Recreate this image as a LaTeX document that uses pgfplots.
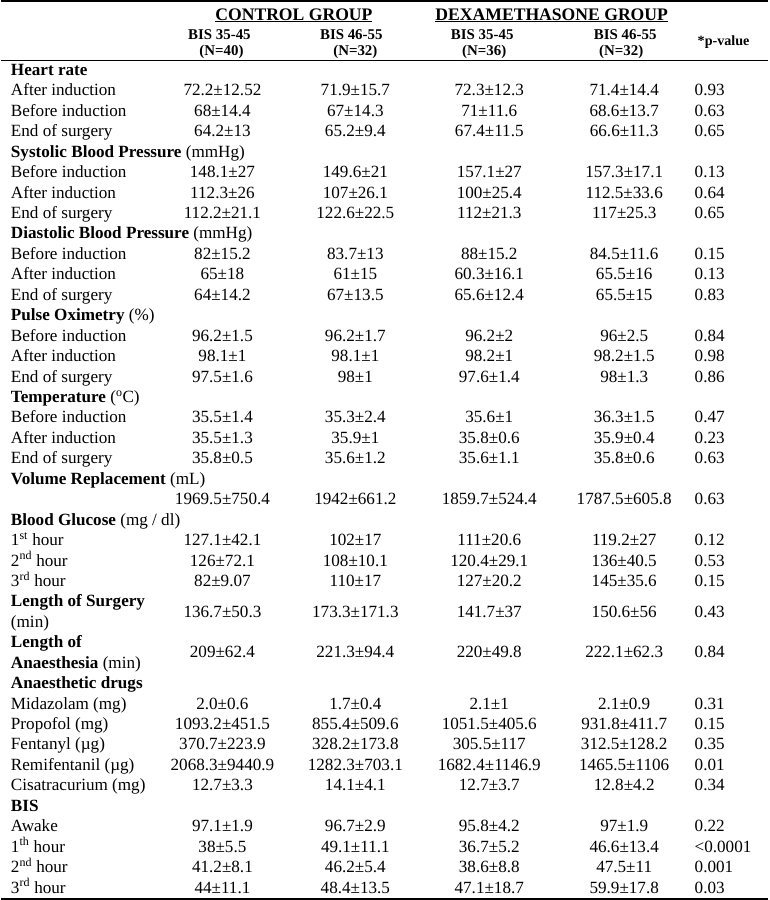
\documentclass[border=0pt]{standalone}
\usepackage{fontspec}
\setmainfont{Liberation Serif}
\usepackage{pgfplots}
\usepackage{pgfplotstable}
\pgfplotsset{compat=1.18}
\pgfplotstableread[col sep=comma, row sep=\\]{
y,lab,a,b,c,d,p\\
78.0,\textbf{Heart rate},,,,,\\
98.3,After induction,72.2±12.52,71.9±15.7,72.3±12.3,71.4±14.4,0.93\\
118.6,Before induction,68±14.4,67±14.3,71±11.6,68.6±13.7,0.63\\
138.9,End of surgery,64.2±13,65.2±9.4,67.4±11.5,66.6±11.3,0.65\\
159.2,\textbf{Systolic Blood Pressure} (mmHg),,,,,\\
179.5,Before induction,148.1±27,149.6±21,157.1±27,157.3±17.1,0.13\\
199.8,After induction,112.3±26,107±26.1,100±25.4,112.5±33.6,0.64\\
220.1,End of surgery,112.2±21.1,122.6±22.5,112±21.3,117±25.3,0.65\\
240.4,\textbf{Diastolic Blood Pressure} (mmHg),,,,,\\
260.7,Before induction,82±15.2,83.7±13,88±15.2,84.5±11.6,0.15\\
281.0,After induction,65±18,61±15,60.3±16.1,65.5±16,0.13\\
301.3,End of surgery,64±14.2,67±13.5,65.6±12.4,65.5±15,0.83\\
321.6,\textbf{Pulse Oximetry} (\%),,,,,\\
341.9,Before induction,96.2±1.5,96.2±1.7,96.2±2,96±2.5,0.84\\
362.2,After induction,98.1±1,98.1±1,98.2±1,98.2±1.5,0.98\\
382.5,End of surgery,97.5±1.6,98±1,97.6±1.4,98±1.3,0.86\\
402.8,\textbf{Temperature} (\textsuperscript{o}C),,,,,\\
423.1,Before induction,35.5±1.4,35.3±2.4,35.6±1,36.3±1.5,0.47\\
443.4,After induction,35.5±1.3,35.9±1,35.8±0.6,35.9±0.4,0.23\\
463.7,End of surgery,35.8±0.5,35.6±1.2,35.6±1.1,35.8±0.6,0.63\\
484.0,\textbf{Volume Replacement} (mL),,,,,\\
504.3,,1969.5±750.4,1942±661.2,1859.7±524.4,1787.5±605.8,0.63\\
524.6,\textbf{Blood Glucose} (mg / dl),,,,,\\
544.9,1\textsuperscript{st} hour,127.1±42.1,102±17,111±20.6,119.2±27,0.12\\
565.2,2\textsuperscript{nd} hour,126±72.1,108±10.1,120.4±29.1,136±40.5,0.53\\
585.5,3\textsuperscript{rd} hour,82±9.07,110±17,127±20.2,145±35.6,0.15\\
605.8,\textbf{Length of Surgery},,,,,\\
626.1,(min),,,,,\\
616.0,,136.7±50.3,173.3±171.3,141.7±37,150.6±56,0.43\\
646.4,\textbf{Length of},,,,,\\
666.7,\textbf{Anaesthesia} (min),,,,,\\
656.5,,209±62.4,221.3±94.4,220±49.8,222.1±62.3,0.84\\
687.0,\textbf{Anaesthetic drugs},,,,,\\
707.3,Midazolam (mg),2.0±0.6,1.7±0.4,2.1±1,2.1±0.9,0.31\\
727.6,Propofol (mg),1093.2±451.5,855.4±509.6,1051.5±405.6,931.8±411.7,0.15\\
747.9,Fentanyl (µg),370.7±223.9,328.2±173.8,305.5±117,312.5±128.2,0.35\\
768.2,Remifentanil (µg),2068.3±9440.9,1282.3±703.1,1682.4±1146.9,1465.5±1106,0.01\\
788.5,Cisatracurium (mg),12.7±3.3,14.1±4.1,12.7±3.7,12.8±4.2,0.34\\
808.8,\textbf{BIS},,,,,\\
829.1,Awake,97.1±1.9,96.7±2.9,95.8±4.2,97±1.9,0.22\\
849.4,1\textsuperscript{th} hour,38±5.5,49.1±11.1,36.7±5.2,46.6±13.4,<0.0001\\
869.7,2\textsuperscript{nd} hour,41.2±8.1,46.2±5.4,38.6±8.8,47.5±11,0.001\\
890.0,3\textsuperscript{rd} hour,44±11.1,48.4±13.5,47.1±18.7,59.9±17.8,0.03\\
}\datatab
\pgfplotstableread[col sep=comma, row sep=\\]{
x,y,t\\
218,42,BIS 35-45\\
220,58,(N=40)\\
349,42,BIS 46-55\\
353,58,(N=32)\\
479,42,BIS 35-45\\
481,58,(N=36)\\
621,42,BIS 46-55\\
617,58,(N=32)\\
}\headtab
\pgfplotstableread[col sep=comma, row sep=\\]{
x,y,t\\
292,23,\underline{CONTROL GROUP}\\
548,23,\underline{DEXAMETHASONE GROUP}\\
}\grouptab
\pgfplotsset{
  txt/.style={draw=none, mark=none, nodes near coords, point meta=explicit symbolic,
    every node near coord/.append style={inner sep=0pt, outer sep=0pt, text=black, #1}},
}
\begin{document}
\begin{tikzpicture}
\begin{axis}[
  scale only axis, width=767pt, height=900pt,
  xmin=0, xmax=767, ymin=0, ymax=900, y dir=reverse,
  hide axis, clip=false,
]
% rules
\addplot[black, line width=1.8pt, mark=none] coordinates {(1,4) (763,4)};
\addplot[black, line width=1.5pt, mark=none] coordinates {(1,63) (763,63)};
\addplot[black, line width=1.8pt, mark=none] coordinates {(1,896) (763,896)};
% group titles
\addplot[txt={anchor=base, font=\fontsize{17.5}{20}\selectfont\bfseries}] table[x=x, y=y, meta=t] {\grouptab};
% column headers
\addplot[txt={anchor=base, font=\fontsize{14.8}{18}\selectfont\bfseries}] table[x=x, y=y, meta=t] {\headtab};
\addplot[txt={anchor=base west, font=\fontsize{14}{17}\selectfont\bfseries}] coordinates {(693,48) [*p-value]};
% body
\addplot[txt={anchor=base west, font=\fontsize{17}{20}\selectfont}] table[x expr=11, y=y, meta=lab] {\datatab};
\addplot[txt={anchor=base, font=\fontsize{17}{20}\selectfont}] table[x expr=221, y=y, meta=a] {\datatab};
\addplot[txt={anchor=base, font=\fontsize{17}{20}\selectfont}] table[x expr=353, y=y, meta=b] {\datatab};
\addplot[txt={anchor=base, font=\fontsize{17}{20}\selectfont}] table[x expr=486, y=y, meta=c] {\datatab};
\addplot[txt={anchor=base, font=\fontsize{17}{20}\selectfont}] table[x expr=620, y=y, meta=d] {\datatab};
\addplot[txt={anchor=base west, font=\fontsize{17}{20}\selectfont}] table[x expr=690, y=y, meta=p] {\datatab};
\end{axis}
\end{tikzpicture}
\end{document}
